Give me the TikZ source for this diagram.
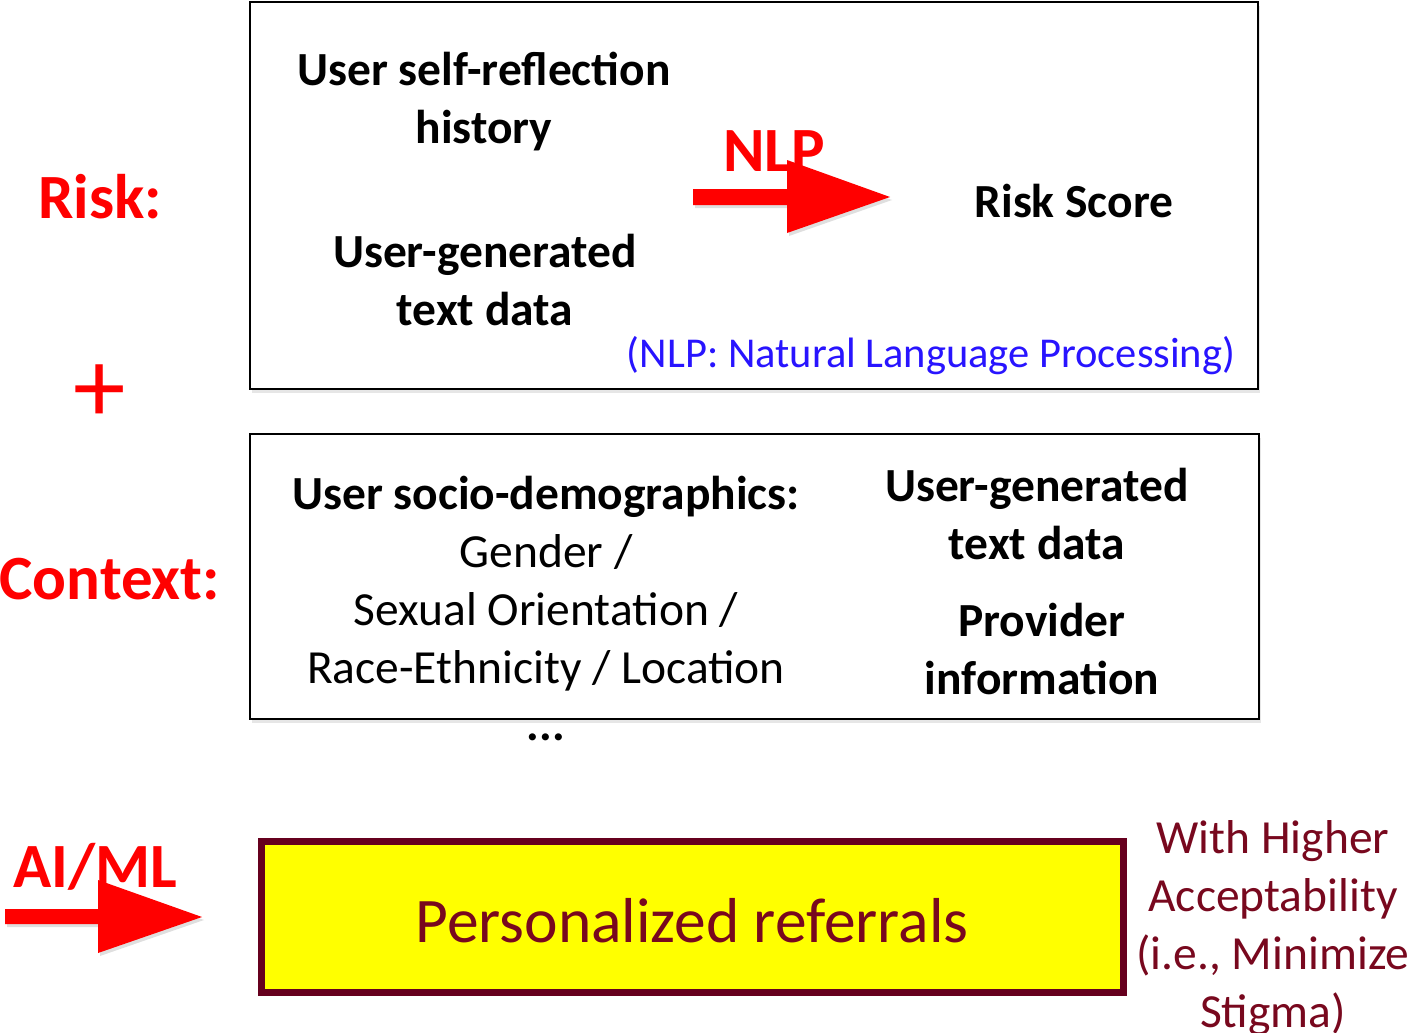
\documentclass[tikz,border=0pt]{standalone}
\usepackage{fontspec}
\setmainfont{Carlito}
\usetikzlibrary{shadows}
\definecolor{myred}{RGB}{255,0,0}
\definecolor{myblue}{RGB}{40,20,255}
\definecolor{boxred}{RGB}{102,0,30}
\definecolor{txtred}{RGB}{120,8,30}
\definecolor{myyellow}{RGB}{255,255,0}
\begin{document}
\begin{tikzpicture}[x=1pt,y=-1pt,
  framebox/.style={draw=black,line width=2.5pt,fill=white,drop shadow={opacity=0.2,shadow xshift=2pt,shadow yshift=-4pt}},
  bigred/.style={text=myred,font=\fontsize{63}{70}\bfseries\selectfont},
  boldtxt/.style={align=center,font=\fontsize{47.5}{58}\bfseries\selectfont},
  regtxt/.style={align=center,font=\fontsize{47.5}{58}\selectfont},
  redarrow/.style={fill=myred,drop shadow={opacity=0.25,shadow xshift=2pt,shadow yshift=-3pt}}
]
\useasboundingbox (0,0) rectangle (1416,1033);
% boxes
\path[framebox] (250,2) rectangle (1258,389);
\path[framebox] (250,434) rectangle (1259,719);
\path[draw=boxred,fill=myyellow,line width=7pt,drop shadow={opacity=0.2,shadow xshift=2pt,shadow yshift=-3pt}] (261,841) rectangle (1123,992);
% left labels
\node[bigred] (risk) at (100,197) {Risk:};
\node[text=myred,font=\fontsize{105}{105}\selectfont] (plus) at (100,394) {+};
\node[bigred,anchor=west] (context) at (-4,579) {Context:};
\node[bigred] (aiml) at (95,867) {AI/ML};
% box 1
\node[boldtxt] (selfref) at (484,102) {User self-reflection\\history};
\node[boldtxt] (ugtext1) at (485,280) {User-generated\\text data};
\node[bigred] (nlp) at (774,151) {NLP};
\node[boldtxt] (score) at (1074,201) {Risk Score};
\node[text=myblue,font=\fontsize{42.5}{50}\selectfont] (nlpdef) at (931,356) {(NLP: Natural Language Processing)};
% box 2
\node[regtxt] (socio) at (546,584) {\textbf{User socio-demographics:}\\Gender /\\Sexual Orientation /\\Race-Ethnicity / Location};
\node[font=\fontsize{47.5}{58}\bfseries\selectfont,anchor=base] (dots) at (546,740) {...};
\node[boldtxt] (ugtext2) at (1037,514) {User-generated\\text data};
\node[boldtxt] (provider) at (1042,649) {Provider\\information};
% bottom
\node[text=txtred,font=\fontsize{63.5}{70}\selectfont] (pref) at (692,921) {Personalized referrals};
\node[text=txtred,align=center,font=\fontsize{47.5}{58}\selectfont] (accept) at (1273,928) {With Higher\\Acceptability\\(i.e., Minimize\\Stigma)};
% arrows
\path[redarrow] (693,189) -- (787,189) -- (787,160) -- (890,197) -- (787,233) -- (787,205) -- (693,205) -- cycle;
\path[redarrow] (5,909) -- (98,909) -- (98,880) -- (202,917) -- (98,953) -- (98,924) -- (5,924) -- cycle;
\end{tikzpicture}
\end{document}
